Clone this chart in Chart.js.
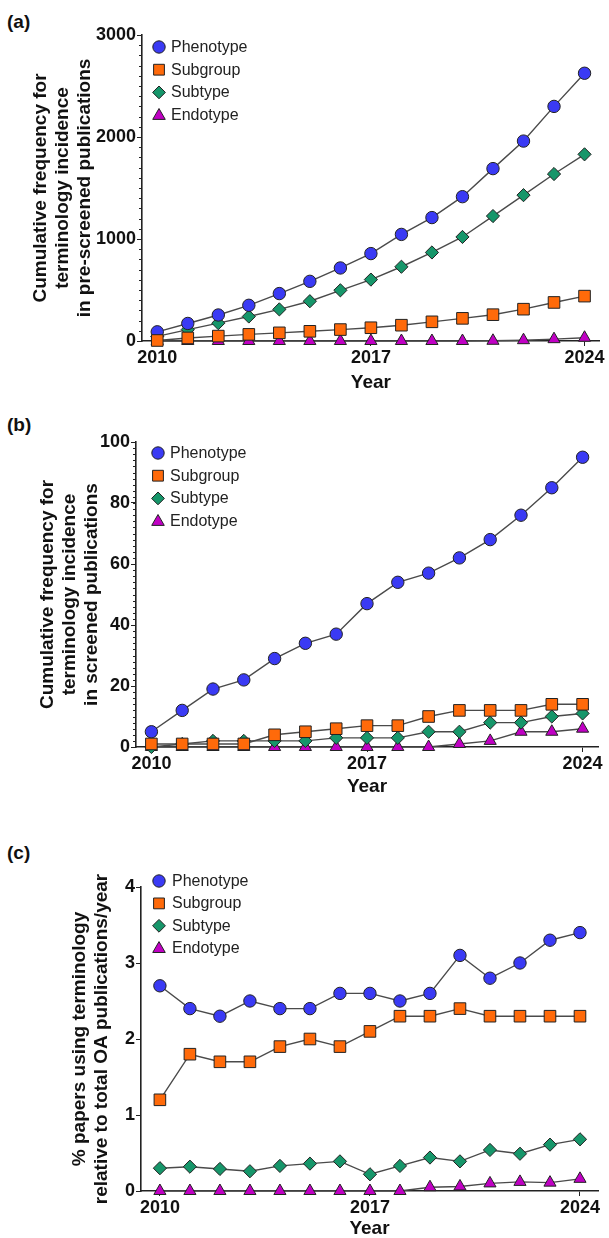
<!DOCTYPE html>
<html>
<head>
<meta charset="utf-8">
<script src="https://cdn.jsdelivr.net/npm/chart.js@4.4.1/dist/chart.umd.min.js"></script>
<style>
  html, body { margin: 0; padding: 0; background: #fff; }
  body { width: 609px; height: 1238px; position: relative; overflow: hidden; font-family: "Liberation Sans", Arial, sans-serif; }
  canvas { position: absolute; left: 0; }
  .plabel { position: absolute; left: 7px; font: bold 19px "Liberation Sans", Arial, sans-serif; color: #111; line-height: 20px; }
</style>
</head>
<body>
<div class="plabel" style="top:12px">(a)</div>
<div class="plabel" style="top:415px">(b)</div>
<div class="plabel" style="top:843px">(c)</div>
<canvas id="cA" width="609" height="395" style="top:0px"></canvas>
<canvas id="cB" width="609" height="405" style="top:395px"></canvas>
<canvas id="cC" width="609" height="438" style="top:800px"></canvas>
<script>
// ---------- DATA ----------
const years = [2010,2011,2012,2013,2014,2015,2016,2017,2018,2019,2020,2021,2022,2023,2024];
const seriesNames = ["Phenotype", "Subgroup", "Subtype", "Endotype"];
const xTickLabels = [2010, 2017, 2024];

// (a) cumulative frequency, pre-screened publications
const aPhenotype = [90,172,255,350,465,585,716,857,1045,1210,1415,1690,1960,2300,2625];
const aSubgroup  = [5,30,48,65,80,95,112,130,155,188,222,258,312,378,440];
const aSubtype   = [45,112,175,240,310,390,497,602,728,868,1020,1225,1430,1637,1830];
const aEndotype  = [0,0,0,0,0,0,0,0,0,0,0,2,8,18,32];
const aYTicks = [0,1000,2000,3000];

// (b) cumulative frequency, screened publications
const bPhenotype = [5,12,19,22,29,34,37,47,54,57,62,68,76,85,95];
const bSubgroup  = [1,1,1,1,4,5,6,7,7,10,12,12,12,14,14];
const bSubtype   = [0,1,2,2,2,2,3,3,3,5,5,8,8,10,11];
const bEndotype  = [0,0,0,0,0,0,0,0,0,0,1,2,5,5,6];
const bYTicks = [0,20,40,60,80,100];

// (c) % papers relative to total OA publications/year
const cPhenotype = [2.7,2.4,2.3,2.5,2.4,2.4,2.6,2.6,2.5,2.6,3.1,2.8,3.0,3.3,3.4];
const cSubgroup  = [1.2,1.8,1.7,1.7,1.9,2.0,1.9,2.1,2.3,2.3,2.4,2.3,2.3,2.3,2.3];
const cSubtype   = [0.30,0.32,0.29,0.26,0.33,0.36,0.39,0.22,0.33,0.44,0.39,0.54,0.49,0.61,0.68];
const cEndotype  = [0,0,0,0,0,0,0,0,0,0.05,0.06,0.10,0.12,0.11,0.16];
const cYTicks = [0,1,2,3,4];

// ---------- STYLE ----------
const FONT = '"Liberation Sans", Arial, sans-serif';
const styles = [
  { pointStyle: 'circle',   bg: '#3a3af4', r: 6.2, order: 1 },
  { pointStyle: 'rect',     bg: '#ff6a0a', r: 8.2, order: 0 },
  { pointStyle: 'rectRot',  bg: '#16966a', r: 6.6, order: 2 },
  { pointStyle: 'triangle', bg: '#c000c4', r: 7.0, order: 3 }
];

function makeDatasets(arrs) {
  return arrs.map((vals, i) => ({
    label: seriesNames[i],
    data: years.map((y, k) => ({ x: y, y: vals[k] })),
    borderColor: '#4a4a4a',
    borderWidth: 1.4,
    pointStyle: styles[i].pointStyle,
    pointRadius: styles[i].r,
    pointHoverRadius: styles[i].r,
    pointBackgroundColor: styles[i].bg,
    pointBorderColor: '#222',
    pointBorderWidth: 1,
    order: styles[i].order,
    clip: false,
    tension: 0
  }));
}

// draw a legend marker (not data) with simple paths
function drawMarker(ctx, style, x, y, r, bg) {
  ctx.save();
  ctx.fillStyle = bg; ctx.strokeStyle = '#222'; ctx.lineWidth = 1;
  ctx.beginPath();
  if (style === 'circle') { ctx.arc(x, y, r, 0, Math.PI * 2); }
  else if (style === 'rect') { ctx.rect(x - r, y - r, 2 * r, 2 * r); }
  else if (style === 'rectRot') { ctx.moveTo(x - r, y); ctx.lineTo(x, y - r); ctx.lineTo(x + r, y); ctx.lineTo(x, y + r); ctx.closePath(); }
  else if (style === 'triangle') { ctx.moveTo(x, y - r); ctx.lineTo(x + r * 0.95, y + r * 0.65); ctx.lineTo(x - r * 0.95, y + r * 0.65); ctx.closePath(); }
  ctx.fill(); ctx.stroke();
  ctx.restore();
}

const legendPlugin = {
  id: 'insideLegend',
  afterDraw(chart, args, opts) {
    const ctx = chart.ctx;
    const sizes = [6.2, 5.4, 6.4, 6.6];
    seriesNames.forEach((name, i) => {
      const y = opts.y0 + i * opts.dy;
      drawMarker(ctx, styles[i].pointStyle, opts.mx, y, sizes[i], styles[i].bg);
      ctx.save();
      ctx.fillStyle = '#222';
      ctx.font = '16px ' + FONT;
      ctx.textBaseline = 'middle';
      ctx.textAlign = 'left';
      ctx.fillText(name, opts.tx, y + 0.5);
      ctx.restore();
    });
  }
};

const minorTickPlugin = {
  id: 'minorTicks',
  afterDraw(chart, args, opts) {
    if (!opts.step) return;
    const ys = chart.scales.y;
    const ctx = chart.ctx;
    ctx.save();
    ctx.strokeStyle = '#222'; ctx.lineWidth = 1;
    for (let v = ys.min; v <= ys.max + 1e-9; v += opts.step) {
      const p = Math.round(ys.getPixelForValue(v)) + 0.5;
      ctx.beginPath();
      ctx.moveTo(ys.right - 3, p); ctx.lineTo(ys.right, p);
      ctx.stroke();
    }
    ctx.restore();
  }
};

function makeChart(id, cfg) {
  const canvas = document.getElementById(id);
  const H = canvas.height;
  return new Chart(canvas, {
    type: 'line',
    data: { datasets: makeDatasets(cfg.series) },
    plugins: [legendPlugin, minorTickPlugin],
    options: {
      responsive: false,
      animation: false,
      devicePixelRatio: 1,
      layout: { padding: { top: cfg.top, right: 609 - cfg.right, bottom: 0, left: 0 } },
      plugins: {
        legend: { display: false },
        tooltip: { enabled: false },
        insideLegend: cfg.legend,
        minorTicks: { step: cfg.minor }
      },
      scales: {
        x: {
          type: 'linear',
          min: cfg.xmin, max: cfg.xmax,
          afterBuildTicks: (s) => { s.ticks = xTickLabels.map(v => ({ value: v })); },
          afterFit: (s) => { s.height = H - cfg.bottom; },
          ticks: { callback: (v) => String(v), color: '#111', font: { family: FONT, size: 18, weight: 'bold' }, padding: 1, maxRotation: 0, autoSkip: false },
          grid: { display: true, drawOnChartArea: false, drawTicks: true, tickLength: 5, color: '#222', lineWidth: 1 },
          border: { display: true, color: '#222', width: 1.6 },
          title: { display: true, text: 'Year', color: '#111', font: { family: FONT, size: 19, weight: 'bold', lineHeight: 1 }, padding: { top: 0, bottom: cfg.yearPad } }
        },
        y: {
          type: 'linear',
          min: cfg.yTicks[0], max: cfg.yTicks[cfg.yTicks.length - 1],
          afterBuildTicks: (s) => { s.ticks = cfg.yTicks.map(v => ({ value: v })); },
          afterFit: (s) => { s.width = cfg.left; },
          ticks: { callback: (v) => String(v), color: '#111', font: { family: FONT, size: 18, weight: 'bold' }, padding: 1 },
          grid: { display: true, drawOnChartArea: false, drawTicks: true, tickLength: 5, color: '#222', lineWidth: 1 },
          border: { display: true, color: '#222', width: 1.6 },
          title: { display: true, text: cfg.ytitle, color: '#111', font: { family: FONT, size: 19, weight: 'bold', lineHeight: 1.15 }, padding: { top: cfg.titlePad, bottom: 0 } }
        }
      }
    }
  });
}

makeChart('cA', {
  series: [aPhenotype, aSubgroup, aSubtype, aEndotype],
  top: 35, bottom: 341, left: 142, right: 605,
  xmin: 2009.5, xmax: 2024.5,
  yTicks: aYTicks, minor: 100,
  ytitle: ['Cumulative frequency for', 'terminology incidence', 'in pre-screened publications'],
  titlePad: 30, yearPad: 2.5,
  legend: { mx: 159, tx: 171, y0: 47, dy: 22.7 }
});

makeChart('cB', {
  series: [bPhenotype, bSubgroup, bSubtype, bEndotype],
  top: 47, bottom: 352, left: 136, right: 598,
  xmin: 2009.5, xmax: 2024.5,
  yTicks: bYTicks, minor: 2,
  ytitle: ['Cumulative frequency for', 'terminology incidence', 'in screened publications'],
  titlePad: 37, yearPad: 3.5,
  legend: { mx: 158, tx: 170, y0: 58, dy: 22.7 }
});

makeChart('cC', {
  series: [cPhenotype, cSubgroup, cSubtype, cEndotype],
  top: 87, bottom: 391, left: 141, right: 598,
  xmin: 2009.37, xmax: 2024.6,
  yTicks: cYTicks, minor: 0,
  ytitle: ['% papers using terminology', 'relative to total OA publications/year'],
  titlePad: 69, yearPad: 0,
  legend: { mx: 159, tx: 172, y0: 81, dy: 22.4 }
});
</script>
</body>
</html>
